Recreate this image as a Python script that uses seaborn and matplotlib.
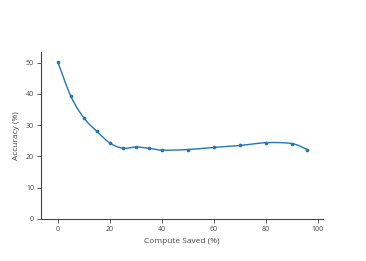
import numpy as np
import matplotlib
matplotlib.use("Agg")
import matplotlib.pyplot as plt
import seaborn as sns

# Data
compute_saved = [0, 5, 10, 15, 20, 25, 30, 35, 40, 50, 60, 70, 80, 90, 96]
accuracy = [50.1, 39.2, 32.3, 28.0, 24.3, 22.6, 23.0, 22.6, 22.0, 22.2, 22.9, 23.5, 24.4, 24.1, 22.2]
x_ticks = [0, 20, 40, 60, 80, 100]
y_ticks = [0, 10, 20, 30, 40, 50]

sns.set_style("white")
plt.rcParams['font.family'] = ['Open Sans', 'DejaVu Sans']


# Catmull-Rom spline so the line bends smoothly through the points
def smooth(x, y, n=20):
    x = np.asarray(x, float)
    y = np.asarray(y, float)
    px = np.concatenate([[2 * x[0] - x[1]], x, [2 * x[-1] - x[-2]]])
    py = np.concatenate([[2 * y[0] - y[1]], y, [2 * y[-1] - y[-2]]])
    xs, ys = [], []
    t = np.linspace(0, 1, n, endpoint=False)
    for i in range(1, len(px) - 2):
        for arr, out in ((px, xs), (py, ys)):
            p0, p1, p2, p3 = arr[i - 1], arr[i], arr[i + 1], arr[i + 2]
            out.extend(0.5 * ((2 * p1) + (-p0 + p2) * t
                              + (2 * p0 - 5 * p1 + 4 * p2 - p3) * t ** 2
                              + (-p0 + 3 * p1 - 3 * p2 + p3) * t ** 3))
    xs.append(x[-1])
    ys.append(y[-1])
    return np.array(xs), np.array(ys)


sx, sy = smooth(compute_saved, accuracy)

fig = plt.figure(figsize=(3.66, 2.61), dpi=100)
ax = fig.add_axes([0.112, 0.161, 0.770, 0.640])

color = "#1f77b4"
sns.lineplot(x=sx, y=sy, ax=ax, color=color, linewidth=1.0, sort=False)
sns.scatterplot(x=compute_saved, y=accuracy, ax=ax, color=color, s=7,
                edgecolor=color, linewidth=0, zorder=3)

ax.set_xlim(-6.5, 101.9)
ax.set_ylim(0, 53.4)
ax.set_xticks(x_ticks)
ax.set_yticks(y_ticks)

for side in ["top", "right"]:
    ax.spines[side].set_visible(False)
for side in ["left", "bottom"]:
    ax.spines[side].set_color("#444444")
    ax.spines[side].set_linewidth(0.8)

ax.tick_params(axis="both", direction="out", length=3, width=0.6,
               color="#444444", labelcolor="#444444", labelsize=5, pad=2)
ax.tick_params(axis="both", which="both", bottom=True, left=True)

ax.set_xlabel("Compute Saved (%)", fontsize=6, color="#444444", labelpad=4)
ax.set_ylabel("Accuracy (%)", fontsize=6, color="#444444", labelpad=4)

fig.savefig("out.png", dpi=100)
